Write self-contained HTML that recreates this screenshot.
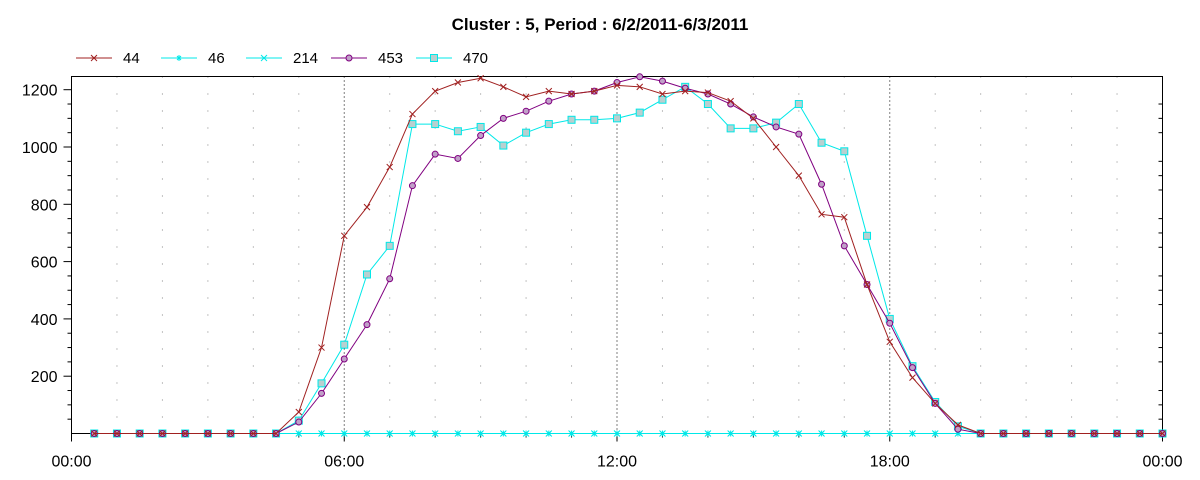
<!DOCTYPE html>
<html><head><meta charset="utf-8"><style>
body{margin:0;background:#fff;}
svg{display:block;font-family:"Liberation Sans",sans-serif;}
</style></head><body>
<svg id="chart" width="1200" height="480">
<text x="600" y="30" text-anchor="middle" font-size="17" font-weight="bold">Cluster : 5, Period : 6/2/2011-6/3/2011</text>
<g id="legend"></g>
<g id="grid"></g>
<g id="axes"></g>
<g id="series"></g>
</svg>
<script>
const hours = Array.from({length:48},(_,i)=>(i+1)*0.5);
const s44 = [0,0,0,0,0,0,0,0,0,75,300,690,790,930,1115,1195,1225,1240,1210,1175,1195,1185,1195,1215,1210,1185,1195,1190,1160,1100,1000,900,765,755,520,320,195,105,30,0,0,0,0,0,0,0,0,0];
const s46 = new Array(48).fill(0);
const s214 = new Array(48).fill(0);
const s453 = [0,0,0,0,0,0,0,0,0,40,140,260,380,540,865,975,960,1040,1100,1125,1160,1185,1195,1225,1245,1230,1205,1185,1150,1105,1070,1045,870,655,520,385,230,105,15,0,0,0,0,0,0,0,0,0];
const s470 = [0,0,0,0,0,0,0,0,0,45,175,310,555,655,1080,1080,1055,1070,1005,1050,1080,1095,1095,1100,1120,1165,1210,1150,1065,1065,1085,1150,1015,985,690,400,235,110,25,0,0,0,0,0,0,0,0,0];
const yTicks = [200,400,600,800,1000,1200];
const xTickLabels = ["00:00","06:00","12:00","18:00","00:00"];
const seriesNames = ["44","46","214","453","470"];

const L=71.5,R=1162.5,B=433.5,T=76.5;
const X=h=>L+(R-L)*h/24;
const Y=v=>B-(v/1000)*286.5;
const NS='http://www.w3.org/2000/svg';
function mk(tag,attrs,parent){const e=document.createElementNS(NS,tag);for(const k in attrs)e.setAttribute(k,attrs[k]);parent.appendChild(e);return e;}

const grid=document.getElementById('grid');
for(let h=1;h<24;h++){
  const l=mk('line',{x1:X(h),x2:X(h),y1:T,y2:B,stroke:h%6===0?'#000':'#888','stroke-width':1,'stroke-dasharray':h%6===0?'1,3':'1,16'},grid);
  
  
}
const axes=document.getElementById('axes');
const fr=mk('rect',{x:L,y:T,width:R-L,height:B-T,fill:'none',stroke:'#000','stroke-width':1},axes);


for(let v=50;v<1250;v+=50){
  const big=v%200===0;
  mk('line',{x1:L-(big?8:4),x2:L,y1:Y(v),y2:Y(v),stroke:'#000'},axes);
  mk('line',{x1:R,x2:R-(big?0:4),y1:Y(v),y2:Y(v),stroke:'#000'},axes);
}
yTicks.forEach(v=>{
  const t=mk('text',{x:L-14,y:Y(v)+6,'text-anchor':'end','font-size':16},axes);
  t.textContent=v;
  
  
});
for(let h=0;h<=24;h++){
  mk('line',{x1:X(h),x2:X(h),y1:B,y2:B+(h%6===0?8:4),stroke:'#000'},axes);
}
xTickLabels.forEach((s,i)=>{
  const t=mk('text',{x:X(i*6),y:B+33,'text-anchor':'middle','font-size':16},axes);
  t.textContent=s;
  
  
});

const styles=[
 {c:'#a02020',m:'x'},{c:'#00e8e8',m:'star'},{c:'#00e8e8',m:'x'},{c:'#800080',m:'circle'},{c:'#00e8e8',m:'square'}];
const data=[s44,s46,s214,s453,s470];
function marker(g,m,x,y,c){
  if(m==='x'){mk('path',{d:`M${x-3},${y-3}L${x+3},${y+3}M${x-3},${y+3}L${x+3},${y-3}`,stroke:c,fill:'none'},g);}
  else if(m==='star'){mk('path',{d:`M${x-3},${y}L${x+3},${y}M${x},${y-3}L${x},${y+3}M${x-2},${y-2}L${x+2},${y+2}M${x-2},${y+2}L${x+2},${y-2}`,stroke:c,fill:'none'},g);}
  else if(m==='circle'){mk('circle',{cx:x,cy:y,r:3,fill:'#c0a0c8',stroke:c},g);}
  else {mk('rect',{x:x-3.5,y:y-3.5,width:7,height:7,fill:'#b8d0d0',stroke:c},g);}
}
const sg=document.getElementById('series');
const order=[1,2,4,3,0];
order.forEach(i=>{
  const g=mk('g',{},sg);
  
  
  const pts=hours.map((h,j)=>X(h)+','+Y(data[i][j])).join(' ');
  mk('polyline',{points:pts,fill:'none',stroke:styles[i].c,'stroke-width':1},g);
  hours.forEach((h,j)=>marker(g,styles[i].m,X(h),Y(data[i][j]),styles[i].c));
});
const lg=document.getElementById('legend');
const lx=[76,161,246,331,416];
seriesNames.forEach((n,i)=>{
  const g=mk('g',{},lg);
  
  
  mk('line',{x1:lx[i],x2:lx[i]+36,y1:58,y2:58,stroke:styles[i].c},g);
  marker(g,styles[i].m,lx[i]+18,58,styles[i].c);
  const t=mk('text',{x:lx[i]+47,y:63,'font-size':15},g);
  t.textContent=n;
});
</script>
</body></html>
